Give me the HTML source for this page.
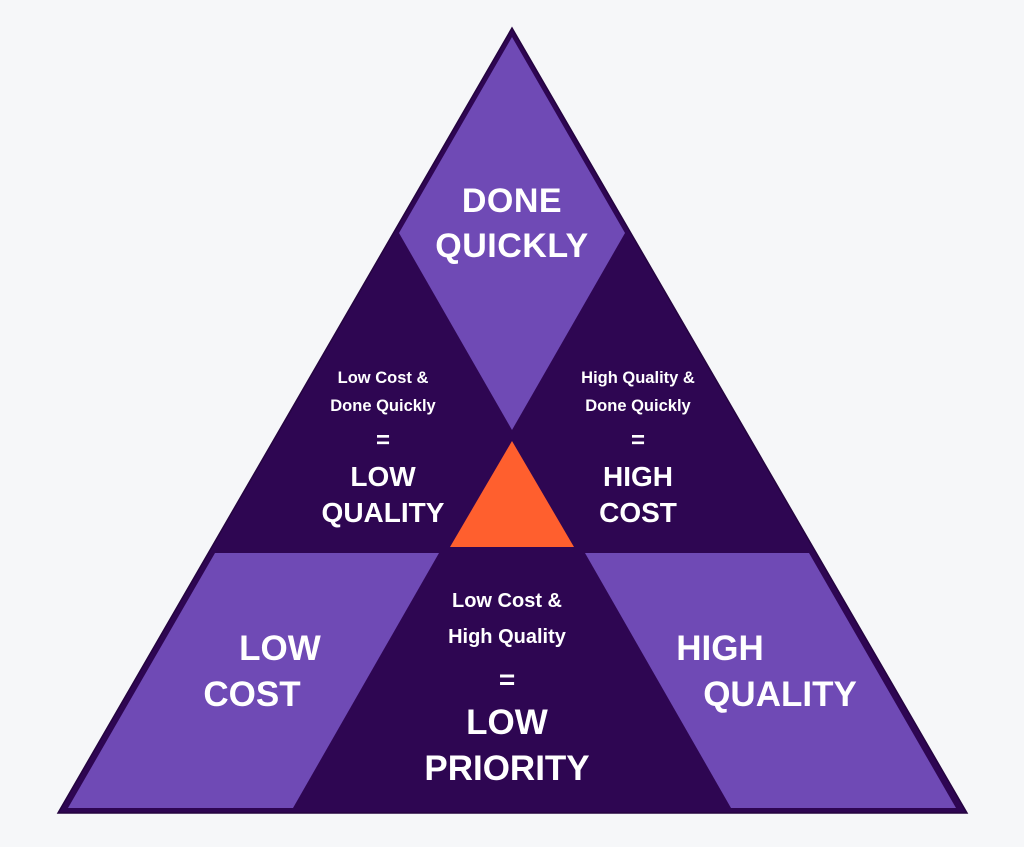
<!DOCTYPE html>
<html><head><meta charset="utf-8"><style>
html,body{margin:0;padding:0;background:#f6f7f9;}
svg{display:block}
text{font-family:"Liberation Sans",sans-serif;font-weight:bold;fill:#fff;text-anchor:middle}
</style></head><body>
<svg width="1024" height="847" viewBox="0 0 1024 847">
<rect width="1024" height="847" fill="#f6f7f9"/>
<polygon points="512,28 58,813 967,813" fill="#2e0652" stroke="#250440" stroke-width="1.5"/>
<polygon points="512,37 399,233 512,430 625,233" fill="#6f4ab5"/>
<polygon points="512,441 450,547 574,547" fill="#ff5f2e"/>
<polygon points="215,553 439,553 293,808 68,808" fill="#6f4ab5"/>
<polygon points="585,553 809,553 956,808 731,808" fill="#6f4ab5"/>
<text x="512" y="212" font-size="34" letter-spacing="0.5">DONE</text>
<text x="512" y="257" font-size="34" letter-spacing="0.5">QUICKLY</text>
<text x="383" y="383" font-size="16.5">Low Cost &amp;</text>
<text x="383" y="411" font-size="16.5">Done Quickly</text>
<text x="383" y="448" font-size="24">=</text>
<text x="383" y="486" font-size="28">LOW</text>
<text x="383" y="522" font-size="28">QUALITY</text>
<text x="638" y="383" font-size="16.5">High Quality &amp;</text>
<text x="638" y="411" font-size="16.5">Done Quickly</text>
<text x="638" y="448" font-size="24">=</text>
<text x="638" y="486" font-size="28">HIGH</text>
<text x="638" y="522" font-size="28">COST</text>
<text x="507" y="607" font-size="20">Low Cost &amp;</text>
<text x="507" y="643" font-size="20">High Quality</text>
<text x="507" y="689" font-size="28">=</text>
<text x="507" y="734" font-size="35">LOW</text>
<text x="507" y="780" font-size="35">PRIORITY</text>
<text x="280" y="660" font-size="35">LOW</text>
<text x="252" y="706" font-size="35">COST</text>
<text x="720" y="660" font-size="35">HIGH</text>
<text x="780" y="706" font-size="35">QUALITY</text>
</svg>
</body></html>
